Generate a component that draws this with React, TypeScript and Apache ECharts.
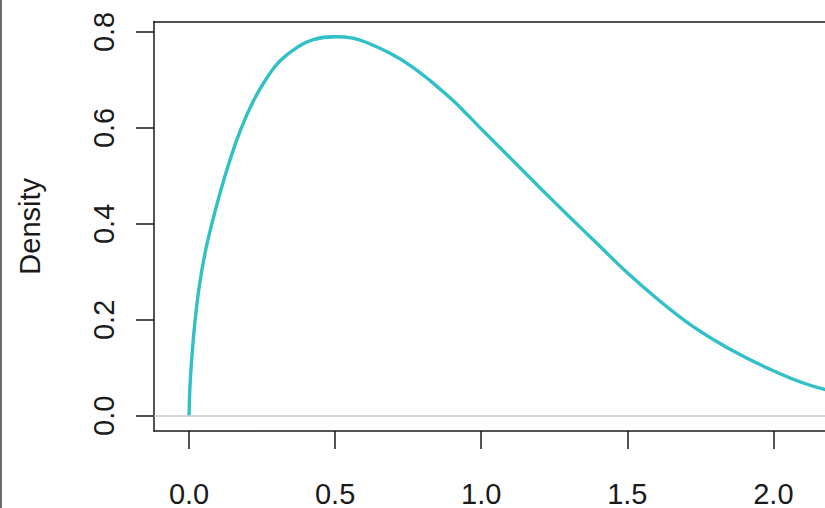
import React, { useEffect, useRef } from "react";
import * as echarts from "echarts";

const xValues = [0, 0.003, 0.01, 0.02, 0.035, 0.055, 0.08, 0.105, 0.14, 0.175, 0.22, 0.265, 0.31, 0.37, 0.425, 0.5, 0.56, 0.62, 0.69, 0.76, 0.83, 0.9, 0.96, 1.0, 1.1, 1.2, 1.3, 1.4, 1.5, 1.6, 1.7, 1.8, 1.9, 2.0, 2.1, 2.2];
const densityValues = [0, 0.06, 0.125, 0.195, 0.27, 0.34, 0.405, 0.462, 0.533, 0.594, 0.656, 0.703, 0.739, 0.768, 0.784, 0.79, 0.787, 0.775, 0.755, 0.729, 0.696, 0.659, 0.623, 0.598, 0.537, 0.476, 0.416, 0.357, 0.298, 0.245, 0.197, 0.157, 0.123, 0.094, 0.069, 0.051];
const xTicks = [0, 0.5, 1.0, 1.5, 2.0];
const yTicks = [0, 0.2, 0.4, 0.6, 0.8];
const yAxisName = "Density";

const FONT = "'Liberation Sans', Arial, sans-serif";
const INK = "#1a1a1a";

export default function App() {
  const ref = useRef<HTMLDivElement>(null);
  useEffect(() => {
    if (!ref.current) return;
    const chart = echarts.init(ref.current, null, { renderer: "svg" });
    const data = xValues.map((x, i) => [x, densityValues[i]]);
    const xMin = -0.12;
    const xMax = -0.12 + 671 / 292.15;
    chart.setOption({
      animation: false,
      backgroundColor: "#ffffff",
      graphic: [
        {
          type: "rect",
          left: 0,
          top: 0,
          shape: { x: 0, y: 0, width: 2, height: 508 },
          style: { fill: "#6b6b6b" },
          silent: true,
        },
      ],
      grid: {
        left: 154,
        top: 21.6,
        right: 0,
        height: 409.6,
        show: false,
        containLabel: false,
      },
      xAxis: [
        {
          type: "value",
          position: "bottom",
          min: xMin,
          max: xMax,
          axisLine: { show: true, onZero: false, lineStyle: { color: INK, width: 1.5 } },
          splitLine: { show: false },
          axisTick: {
            show: true,
            length: 18,
            inside: false,
            customValues: xTicks,
            lineStyle: { color: INK, width: 1.5 },
          },
          axisLabel: {
            show: true,
            customValues: xTicks,
            formatter: (v: number) => v.toFixed(1),
            margin: 48,
            fontFamily: FONT,
            fontSize: 29,
            lineHeight: 29,
            color: INK,
          },
        },
        {
          type: "value",
          position: "top",
          min: xMin,
          max: xMax,
          axisLine: { show: true, onZero: false, lineStyle: { color: INK, width: 1.5 } },
          splitLine: { show: false },
          axisTick: { show: false },
          axisLabel: { show: false },
        },
      ],
      yAxis: {
        type: "value",
        min: -0.0316,
        max: 0.8216,
        name: yAxisName,
        nameLocation: "middle",
        nameRotate: 90,
        nameGap: 110,
        nameTextStyle: { fontFamily: FONT, fontSize: 29, lineHeight: 29, color: INK },
        axisLine: { show: true, onZero: false, lineStyle: { color: INK, width: 1.5 } },
        splitLine: { show: false },
        axisTick: {
          show: true,
          length: 18,
          inside: false,
          customValues: yTicks,
          lineStyle: { color: INK, width: 1.5 },
        },
        axisLabel: {
          show: true,
          customValues: yTicks,
          formatter: (v: number) => v.toFixed(1),
          rotate: 90,
          margin: 36,
          fontFamily: FONT,
          fontSize: 29,
          lineHeight: 29,
          color: INK,
        },
      },
      series: [
        {
          type: "line",
          xAxisIndex: 0,
          data,
          showSymbol: false,
          smooth: 0.45,
          clip: true,
          lineStyle: { color: "#2fc1c6", width: 3.4 },
          markLine: {
            silent: true,
            symbol: ["none", "none"],
            label: { show: false },
            lineStyle: { color: "#c8c8c8", width: 1.5, type: "solid" },
            data: [{ yAxis: 0 }],
          },
          z: 3,
        },
      ],
    });
    return () => chart.dispose();
  }, []);
  return (
    <div
      ref={ref}
      style={{ position: "fixed", left: 0, top: 0, width: 825, height: 508, background: "#fff" }}
    />
  );
}
